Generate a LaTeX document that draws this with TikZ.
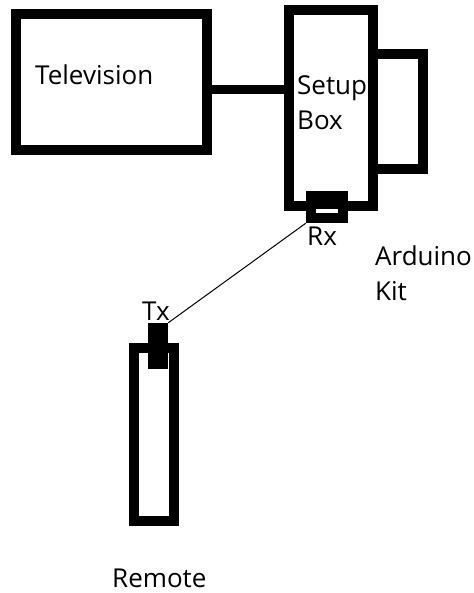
\documentclass[tikz,border=0pt]{standalone}
\usepackage{fontspec}
\setmainfont{Open Sans}
\usetikzlibrary{positioning}
\tikzset{
  unitbox/.style={draw, line width=10pt, inner sep=0pt, minimum width=#1},
  blockpart/.style={fill=black, draw=none, inner sep=0pt},
  cable/.style={line width=9pt},
  beam/.style={line width=1pt},
  tag/.style={font=\fontsize{26}{35}\selectfont, inner sep=0pt, anchor=base west, align=left}
}

\begin{document}
\begin{tikzpicture}[x=1pt, y=-1pt]
  \useasboundingbox (0,0) rectangle (473,593);
  % boxes
  \node[unitbox=191pt, minimum height=136pt] (tv) at (111.5,82) {};
  \node[unitbox=84pt, minimum height=196pt] (setup) at (331,108) {};
  \node[unitbox=50pt, minimum height=115pt] (kit) at (398,111.5) {};
  \node[unitbox=40pt, minimum height=173pt] (remote) at (154,434.5) {};
  % receiver and transmitter
  \node[blockpart, minimum width=42pt, minimum height=32pt] (rx) at (327,207) {};
  \node[fill=white, inner sep=0pt, minimum width=22pt, minimum height=4pt] (slit) at (327,211) {};
  \node[blockpart, minimum width=20pt, minimum height=46pt] (tx) at (158,346) {};
  % links
  \coordinate (tvport) at (207,90);
  \draw[cable] (tvport) -- (setup.west |- tvport);
  \draw[beam] (rx.south west) -- (tx.north east);
  % labels (base = last line)
  \node[tag] (tvlabel) at (35,85) {Television};
  \node[tag] (setuplabel) at (297,130) {Setup\\Box};
  \node[tag] (kitlabel) at (375,300) {Arduino\\Kit};
  \node[tag] (rxlabel) at (307,246) {Rx};
  \node[tag] (txlabel) at (142,320) {Tx};
  \node[tag] (remotelabel) at (112,587) {Remote};
\end{tikzpicture}
\end{document}
